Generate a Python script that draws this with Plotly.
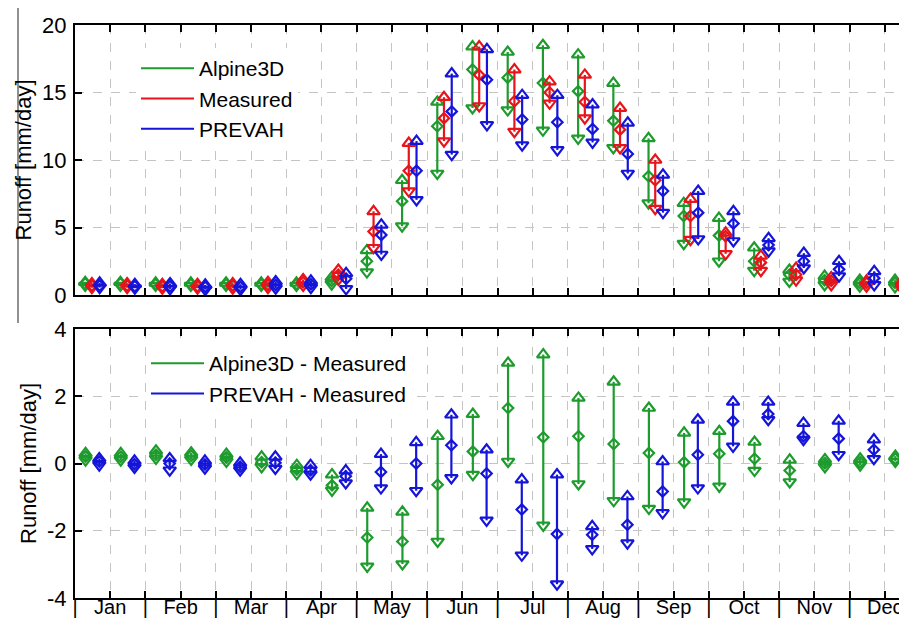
import plotly.graph_objects as go

# ---------------- data (half-month periods, Jan H1 ... Dec H2) ----------------
MONTHS = ["Jan", "Feb", "Mar", "Apr", "May", "Jun",
          "Jul", "Aug", "Sep", "Oct", "Nov", "Dec"]
PERIODS = list(range(24))

# Top panel: runoff [mm/day]  (max, mean, min per half month)
A3D_MAX = [0.95, 0.95, 0.90, 0.90, 0.90, 0.90, 0.90, 1.30, 3.3, 8.5, 14.3, 18.4,
           18.0, 18.5, 17.8, 15.7, 11.6, 6.8, 5.7, 3.5, 1.85, 1.4, 1.1, 1.1]
A3D_MEAN = [0.85, 0.85, 0.80, 0.80, 0.80, 0.80, 0.80, 1.05, 2.5, 6.95, 12.5, 16.7,
            16.1, 15.7, 15.1, 12.9, 8.8, 5.85, 4.4, 2.5, 1.5, 1.1, 0.9, 0.9]
A3D_MIN = [0.70, 0.70, 0.70, 0.70, 0.70, 0.70, 0.70, 0.80, 1.7, 5.1, 9.0, 13.85,
           13.7, 12.2, 11.6, 10.9, 6.8, 3.8, 2.5, 1.8, 1.0, 0.75, 0.65, 0.6]

MEAS_MAX = [0.85, 0.85, 0.80, 0.80, 0.85, 0.95, 1.15, 1.85, 6.2, 11.25, 14.65, 18.4,
            16.7, 15.8, 16.3, 13.85, 10.0, 7.1, 4.6, 2.9, 2.0, 1.3, 1.05, 1.0]
MEAS_MEAN = [0.70, 0.70, 0.65, 0.65, 0.70, 0.75, 0.95, 1.50, 4.7, 9.2, 13.1, 16.3,
             14.35, 15.0, 14.3, 12.25, 8.5, 5.85, 4.35, 2.4, 1.5, 1.05, 0.9, 0.75]
MEAS_MIN = [0.55, 0.55, 0.50, 0.50, 0.50, 0.55, 0.70, 1.15, 3.5, 7.7, 11.4, 14.0,
            12.1, 14.2, 13.1, 10.9, 6.4, 4.1, 3.05, 1.8, 1.1, 0.75, 0.65, 0.5]

PREV_MAX = [0.90, 0.80, 0.85, 0.75, 0.80, 1.00, 1.05, 1.60, 5.2, 11.4, 16.4, 18.2,
            14.8, 14.8, 14.1, 12.75, 8.9, 7.7, 6.2, 4.2, 3.1, 2.5, 1.75, 1.25]
PREV_MEAN = [0.70, 0.65, 0.65, 0.60, 0.60, 0.75, 0.80, 1.20, 4.45, 9.2, 13.6, 15.95,
             13.0, 12.8, 12.3, 10.45, 7.7, 6.1, 5.3, 3.7, 2.5, 1.9, 1.25, 0.95]
PREV_MIN = [0.55, 0.50, 0.45, 0.40, 0.40, 0.50, 0.55, 0.45, 3.0, 7.05, 10.4, 12.6,
            11.1, 10.75, 11.3, 9.0, 6.1, 4.15, 4.0, 3.25, 2.0, 1.4, 0.75, 0.5]

# Bottom panel: differences to measured [mm/day]
DA3D_MAX = [0.30, 0.30, 0.38, 0.32, 0.28, 0.20, -0.05, -0.33, -1.32, -1.44, 0.81, 1.47,
            2.99, 3.24, 1.95, 2.43, 1.65, 0.91, 0.96, 0.64, 0.11, 0.12, 0.14, 0.22]
DA3D_MEAN = [0.21, 0.20, 0.26, 0.23, 0.18, 0.04, -0.18, -0.65, -2.2, -2.32, -0.63, 0.36,
             1.65, 0.78, 0.81, 0.58, 0.31, 0.04, 0.29, 0.14, -0.21, 0.01, 0.04, 0.14]
DA3D_MIN = [0.10, 0.10, 0.15, 0.12, 0.06, -0.10, -0.30, -0.80, -3.06, -2.99, -2.32, -0.33,
            0.06, -1.84, -0.61, -1.11, -1.34, -1.15, -0.68, -0.21, -0.55, -0.10, -0.05, 0.06]

DPREV_MAX = [0.15, 0.08, 0.15, 0.08, 0.02, 0.20, -0.05, -0.21, 0.28, 0.63, 1.45, 0.41,
             -0.48, -0.33, -1.87, -0.98, 0.06, 1.30, 1.83, 1.83, 1.20, 1.27, 0.71, 0.25]
DPREV_MEAN = [0.06, -0.02, 0.0, -0.03, -0.10, 0.02, -0.20, -0.38, -0.25, 0.0, 0.54, -0.30,
              -1.37, -2.10, -2.12, -1.82, -0.83, 0.26, 1.26, 1.47, 0.81, 0.74, 0.41, 0.16]
DPREV_MIN = [-0.05, -0.12, -0.20, -0.14, -0.20, -0.15, -0.32, -0.58, -0.73, -0.81, -0.43, -1.69,
             -2.73, -3.59, -2.54, -2.37, -1.47, -0.73, 0.51, 1.30, 0.71, 0.26, 0.14, 0.05]

# ---------------- style ----------------
GREEN = "#1e9b2d"
RED = "#e8141c"
BLUE = "#1515d9"
FONT = "Liberation Sans, Arial, sans-serif"
W, H = 907, 618
L, R, T, B = 67, 0, 17, 28
PW, PH = W - L - R, H - T - B

def py(p):  # pixel y -> paper y
    return (H - B - p) / PH

def px(p):  # pixel x -> paper x
    return (p - L) / PW

fig = go.Figure()

def add_series(offset, ymax, ymean, ymin, color, xa, ya):
    xc = [p + 0.5 + offset for p in PERIODS]
    lx, ly = [], []
    for x, lo, hi in zip(xc, ymin, ymax):
        lx += [x, x, None]
        ly += [lo, hi, None]
    common = dict(xaxis=xa, yaxis=ya, showlegend=False, hoverinfo="skip")
    fig.add_trace(go.Scatter(x=lx, y=ly, mode="lines",
                             line=dict(color=color, width=2.2), **common))
    mk = dict(color=color, line=dict(color=color, width=2.2))
    fig.add_trace(go.Scatter(x=xc, y=ymax, mode="markers",
                             marker=dict(symbol="triangle-up-open", size=11, **mk), **common))
    fig.add_trace(go.Scatter(x=xc, y=ymin, mode="markers",
                             marker=dict(symbol="triangle-down-open", size=11, **mk), **common))
    fig.add_trace(go.Scatter(x=xc, y=ymean, mode="markers",
                             marker=dict(symbol="diamond-open", size=8, **mk), **common))

add_series(-0.21, A3D_MAX, A3D_MEAN, A3D_MIN, GREEN, "x", "y")
add_series(-0.02, MEAS_MAX, MEAS_MEAN, MEAS_MIN, RED, "x", "y")
add_series(0.20, PREV_MAX, PREV_MEAN, PREV_MIN, BLUE, "x", "y")
add_series(-0.20, DA3D_MAX, DA3D_MEAN, DA3D_MIN, GREEN, "x2", "y2")
add_series(0.19, DPREV_MAX, DPREV_MEAN, DPREV_MIN, BLUE, "x2", "y2")

# legend entries
for name, color, leg, xa, ya in [
        ("Alpine3D", GREEN, "legend", "x", "y"),
        ("Measured", RED, "legend", "x", "y"),
        ("PREVAH", BLUE, "legend", "x", "y"),
        ("Alpine3D - Measured", GREEN, "legend2", "x2", "y2"),
        ("PREVAH - Measured", BLUE, "legend2", "x2", "y2")]:
    fig.add_trace(go.Scatter(x=[None], y=[None], mode="lines", name=name,
                             line=dict(color=color, width=2), legend=leg,
                             xaxis=xa, yaxis=ya))

tickvals = list(range(24))
ticktext = []
for m in MONTHS:
    ticktext += ["|", m]

xmax = 24 * (W - L) / (912 - L)
axis_common = dict(showline=True, linecolor="black", linewidth=2,
                   ticks="inside", ticklen=7, tickwidth=2, tickcolor="black",
                   showgrid=True, gridcolor="#c4c4c4", gridwidth=1, griddash="dash",
                   zeroline=False)
yfont = dict(size=22, color="black", family=FONT)
xfont = dict(size=20, color="black", family=FONT)

fig.update_layout(
    width=W, height=H,
    margin=dict(l=L, r=R, t=T, b=B, autoexpand=False),
    paper_bgcolor="white", plot_bgcolor="white",
    font=dict(family=FONT, size=22, color="black"),
    xaxis=dict(domain=[0, 1], range=[0, xmax], tickvals=tickvals, showticklabels=False,
               mirror="ticks", anchor="y", tickfont=xfont, **axis_common),
    yaxis=dict(domain=[py(287), 1], range=[0, 20], tickvals=[0, 5, 10, 15, 20],
               ticktext=["0", "5", "10", "15", "20"], anchor="x", tickfont=yfont,
               ticklabelstandoff=2,
               title=dict(text="Runoff [mm/day]", font=dict(size=22), standoff=4),
               **axis_common),
    xaxis2=dict(domain=[0, 1], range=[0, xmax], tickvals=tickvals, ticktext=ticktext,
                mirror="ticks", anchor="y2", tickfont=xfont, ticklabelstandoff=-10,
                **axis_common),
    yaxis2=dict(domain=[0, py(321)], range=[-4, 4], tickvals=[-4, -2, 0, 2, 4],
                ticktext=["-4", "-2", "0", "2", "4"], anchor="x2", tickfont=yfont,
                ticklabelstandoff=2,
                title=dict(text="Runoff [mm/day]", font=dict(size=22), standoff=4),
                **axis_common),
    legend=dict(x=px(128), y=py(40), xanchor="left", yanchor="top",
                bgcolor="white", borderwidth=0, itemwidth=53,
                font=dict(size=21)),
    legend2=dict(x=px(138), y=py(335), xanchor="left", yanchor="top",
                 bgcolor="white", borderwidth=0, itemwidth=53,
                 font=dict(size=21)),
    shapes=[dict(type="line", xref="paper", yref="paper",
                 x0=px(10), x1=px(10), y0=py(0), y1=py(315),
                 line=dict(color="#222222", width=1))],
)

fig.write_html("out.html")
